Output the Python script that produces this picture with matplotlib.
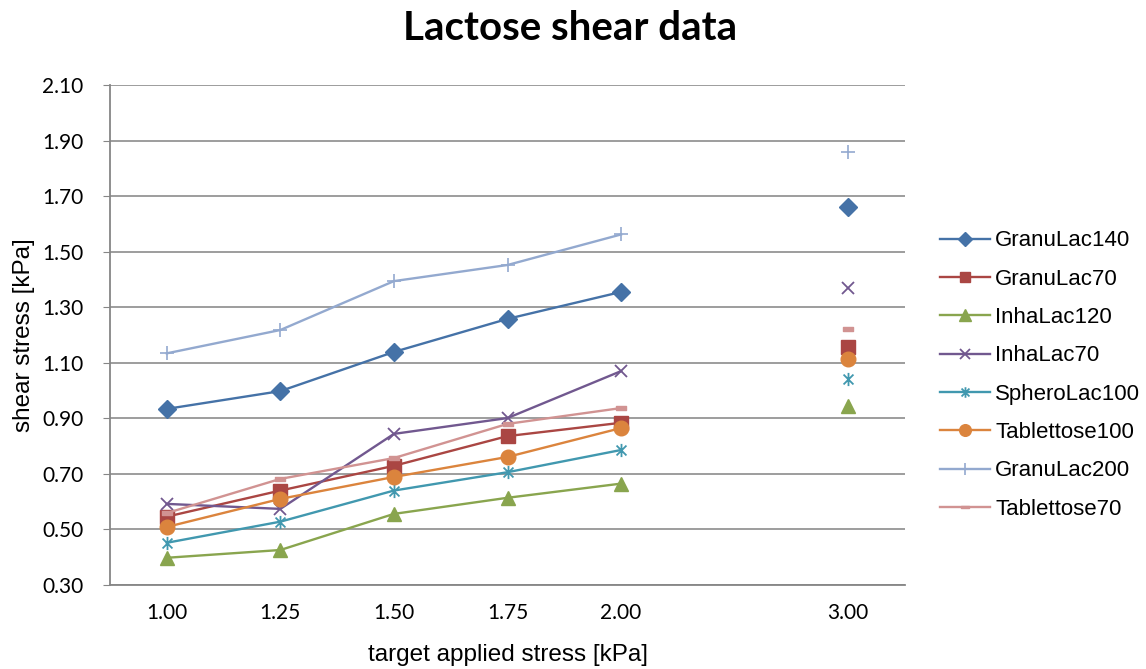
import matplotlib
matplotlib.use("Agg")
import matplotlib.pyplot as plt
from matplotlib.path import Path
import numpy as np

categories = ["1.00", "1.25", "1.50", "1.75", "2.00", "", "3.00"]
series_names = ["GranuLac140", "GranuLac70", "InhaLac120", "InhaLac70",
                "SpheroLac100", "Tablettose100", "GranuLac200", "Tablettose70"]
granulac140 = [0.934, 0.998, 1.139, 1.258, 1.355, None, 1.661]
granulac70 = [0.546, 0.640, 0.729, 0.836, 0.884, None, 1.158]
inhalac120 = [0.398, 0.426, 0.556, 0.614, 0.665, None, 0.944]
inhalac70 = [0.592, 0.574, 0.844, 0.901, 1.070, None, 1.369]
spherolac100 = [0.452, 0.528, 0.640, 0.706, 0.786, None, 1.040]
tablettose100 = [0.509, 0.610, 0.689, 0.761, 0.865, None, 1.115]
granulac200 = [1.134, 1.218, 1.394, 1.452, 1.562, None, 1.857]
tablettose70 = [0.559, 0.682, 0.757, 0.880, 0.937, None, 1.223]
y_ticks = [0.30, 0.50, 0.70, 0.90, 1.10, 1.30, 1.50, 1.70, 1.90, 2.10]

colors = ["#4572A7", "#AA4643", "#89A54E", "#71588F", "#4198AF", "#DB843D", "#93A9CF", "#D19392"]

star = Path([(0, -1), (0, 1), (-0.75, -0.75), (0.75, 0.75), (-0.75, 0.75), (0.75, -0.75)],
            [Path.MOVETO, Path.LINETO, Path.MOVETO, Path.LINETO, Path.MOVETO, Path.LINETO])
dash = Path([(-1, -0.35), (1, -0.35), (1, 0.35), (-1, 0.35), (-1, -0.35)],
            [Path.MOVETO, Path.LINETO, Path.LINETO, Path.LINETO, Path.CLOSEPOLY])

styles = [
    dict(marker="D", ms=9.5),
    dict(marker="s", ms=9.5),
    dict(marker="^", ms=10.5),
    dict(marker="x", ms=9, mew=1.3),
    dict(marker=star, ms=9.5, mew=1.3),
    dict(marker="o", ms=10.5),
    dict(marker="+", ms=10, mew=1.2),
    dict(marker=dash, ms=6.5),
]
data = [granulac140, granulac70, inhalac120, inhalac70, spherolac100, tablettose100, granulac200, tablettose70]

fig = plt.figure(figsize=(11.46, 6.69), dpi=100)
ax = fig.add_axes([110/1146, 1-585/669, 795/1146, 500/669])

x = np.arange(len(categories))
for name, vals, c, st in zip(series_names, data, colors, styles):
    y = np.array([np.nan if v is None else v for v in vals], dtype=float)
    ax.plot(x, y, color=c, lw=1.7, mfc=c, mec=c, label=name, **st)

ax.set_xlim(-0.5, len(categories) - 0.5)
ax.set_ylim(y_ticks[0], y_ticks[-1])
ax.set_yticks(y_ticks)
ax.set_yticklabels([f"{t:.2f}" for t in y_ticks], fontsize=15, family="Lato")
ax.set_xticks(x)
ax.set_xticklabels(categories, fontsize=15, family="Lato")
ax.tick_params(axis="x", length=0, pad=13)
ax.tick_params(axis="y", length=5, color="#868686", direction="out", pad=14)
ax.yaxis.grid(True, color="#8C8C8C", lw=1.2)
ax.set_axisbelow(True)
for s in ["top", "right"]:
    ax.spines[s].set_visible(False)
for s in ["left", "bottom"]:
    ax.spines[s].set_color("#868686")
    ax.spines[s].set_linewidth(1.3)

ax.set_xlabel("target applied stress [kPa]", fontsize=17.5, family="Liberation Sans", labelpad=15)
ax.set_ylabel("shear stress [kPa]", fontsize=17.5, family="Liberation Sans", labelpad=5.5)
fig.suptitle("Lactose shear data", x=570/1146, y=1-28/669, va="center",
             fontsize=29, fontweight="bold", family="Lato")

leg = ax.legend(loc="center left", frameon=False,
                prop=dict(family="Liberation Sans", size=16), handlelength=2.25,
                handletextpad=0.23, labelspacing=0.78, borderaxespad=0, markerscale=0.8)
leg.set_bbox_to_anchor((931/1146, 1 - 375/669), transform=fig.transFigure)

fig.savefig("out.png", dpi=100)
